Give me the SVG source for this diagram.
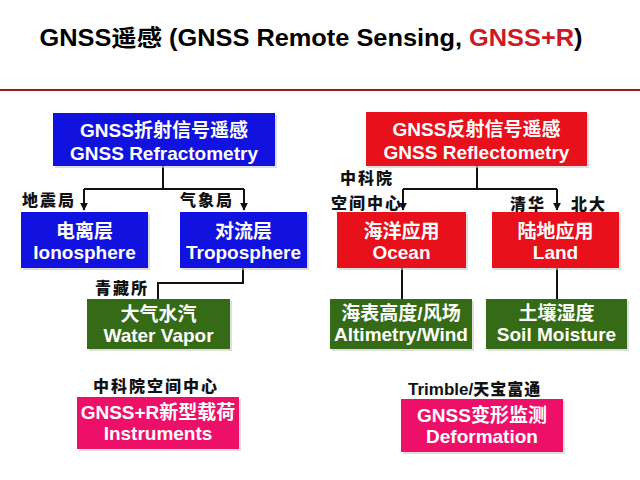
<svg xmlns="http://www.w3.org/2000/svg" width="640" height="480" viewBox="0 0 640 480">
<defs>
<marker id="arr" viewBox="0 0 10 10" refX="9" refY="5" markerWidth="4" markerHeight="4" orient="auto" markerUnits="strokeWidth">
<path d="M0,0 L10,5 L0,10 z" fill="#111"/>
</marker>
<style>
.box{stroke:none}
.sh{fill:#c8c8c8;opacity:0.6}
.blue{fill:#1212e0}
.red{fill:#e8101a}
.green{fill:#356b16}
.pink{fill:#ee1068}
.t{font-family:"Liberation Sans","Noto Sans CJK SC",Arial,sans-serif;font-weight:bold;font-size:19px;fill:#fff;text-anchor:middle}
.lab{font-family:"Noto Sans CJK SC","Liberation Serif",serif;font-weight:900;font-size:16px;letter-spacing:2px;fill:#111}
.ln{stroke:#111;stroke-width:2;fill:none}
</style>
</defs>
<rect width="640" height="480" fill="#fff"/>
<text x="311" y="46" font-family="Liberation Sans,Noto Sans CJK SC,Arial,sans-serif" font-weight="bold" font-size="23" text-anchor="middle" textLength="543" lengthAdjust="spacingAndGlyphs" fill="#000">GNSS遥感 (GNSS Remote Sensing, <tspan fill="#cc1a22">GNSS+R</tspan>)</text>
<line x1="0" y1="90" x2="640" y2="90" stroke="#9a1c1c" stroke-width="2"/>

<g id="connectors">
<path class="ln" d="M163,166 V189"/>
<path class="ln" d="M84,189 H244"/>
<path class="ln" d="M84,189 V210" marker-end="url(#arr)"/>
<path class="ln" d="M244,189 V210" marker-end="url(#arr)"/>
<path class="ln" d="M477,166 V189"/>
<path class="ln" d="M403,189 H557"/>
<path class="ln" d="M403,189 V210" marker-end="url(#arr)"/>
<path class="ln" d="M557,189 V210" marker-end="url(#arr)"/>
<path class="ln" d="M243,268 V283 H158 V299"/>
<path class="ln" d="M402,268 V299"/>
<path class="ln" d="M557,268 V299"/>
</g>

<g id="refractometry">
<rect class="sh" x="55" y="115" width="222" height="53"/>
<rect class="box blue" x="53" y="113" width="222" height="53"/>
<text class="t" x="164" y="137">GNSS折射信号遥感</text>
<text class="t" x="164" y="160">GNSS Refractometry</text>
</g>
<g id="ionosphere">
<rect class="sh" x="23" y="214" width="127" height="56"/>
<rect class="box blue" x="21" y="212" width="127" height="56"/>
<text class="t" x="84.5" y="238">电离层</text>
<text class="t" x="84.5" y="259">Ionosphere</text>
</g>
<g id="troposphere">
<rect class="sh" x="182" y="214" width="127" height="56"/>
<rect class="box blue" x="180" y="212" width="127" height="56"/>
<text class="t" x="243.5" y="238">对流层</text>
<text class="t" x="243.5" y="259">Troposphere</text>
</g>
<g id="watervapor">
<rect class="sh" x="89" y="301" width="143" height="50"/>
<rect class="box green" x="87" y="299" width="143" height="50"/>
<text class="t" x="158.5" y="321">大气水汽</text>
<text class="t" x="158.5" y="342">Water Vapor</text>
</g>
<g id="instruments">
<rect class="sh" x="79" y="399" width="162" height="52"/>
<rect class="box pink" x="77" y="397" width="162" height="52"/>
<text class="t" x="158" y="419">GNSS+R新型载荷</text>
<text class="t" x="158" y="440">Instruments</text>
</g>

<g id="reflectometry">
<rect class="sh" x="368" y="114" width="221" height="54"/>
<rect class="box red" x="366" y="112" width="221" height="54"/>
<text class="t" x="476.5" y="136">GNSS反射信号遥感</text>
<text class="t" x="476.5" y="159">GNSS Reflectometry</text>
</g>
<g id="ocean">
<rect class="sh" x="339" y="214" width="129" height="56"/>
<rect class="box red" x="337" y="212" width="129" height="56"/>
<text class="t" x="401.5" y="238">海洋应用</text>
<text class="t" x="401.5" y="259">Ocean</text>
</g>
<g id="land">
<rect class="sh" x="494" y="214" width="127" height="56"/>
<rect class="box red" x="492" y="212" width="127" height="56"/>
<text class="t" x="555.5" y="238">陆地应用</text>
<text class="t" x="555.5" y="259">Land</text>
</g>
<g id="altimetry">
<rect class="sh" x="332" y="301" width="142" height="50"/>
<rect class="box green" x="330" y="299" width="142" height="50"/>
<text class="t" x="401" y="320">海表高度/风场</text>
<text class="t" x="401" y="341">Altimetry/Wind</text>
</g>
<g id="soil">
<rect class="sh" x="488" y="301" width="141" height="50"/>
<rect class="box green" x="486" y="299" width="141" height="50"/>
<text class="t" x="556.5" y="320">土壤湿度</text>
<text class="t" x="556.5" y="341">Soil Moisture</text>
</g>
<g id="deformation">
<rect class="sh" x="403" y="401" width="162" height="53"/>
<rect class="box pink" x="401" y="399" width="162" height="53"/>
<text class="t" x="482" y="422">GNSS变形监测</text>
<text class="t" x="482" y="443">Deformation</text>
</g>

<g id="labels">
<text class="lab" x="22" y="206">地震局</text>
<text class="lab" x="180" y="206">气象局</text>
<text class="lab" x="340" y="184">中科院</text>
<text class="lab" x="331" y="209">空间中心</text>
<text class="lab" x="510" y="210">清华</text>
<text class="lab" x="571" y="210">北大</text>
<text class="lab" x="95" y="294">青藏所</text>
<text class="lab" x="93" y="392">中科院空间中心</text>
<text class="lab" x="408" y="395" style="letter-spacing:0"><tspan font-family="Liberation Sans,Arial,sans-serif" font-weight="bold" font-size="17">Trimble/</tspan><tspan style="letter-spacing:1px">天宝富通</tspan></text>
</g>
</svg>
